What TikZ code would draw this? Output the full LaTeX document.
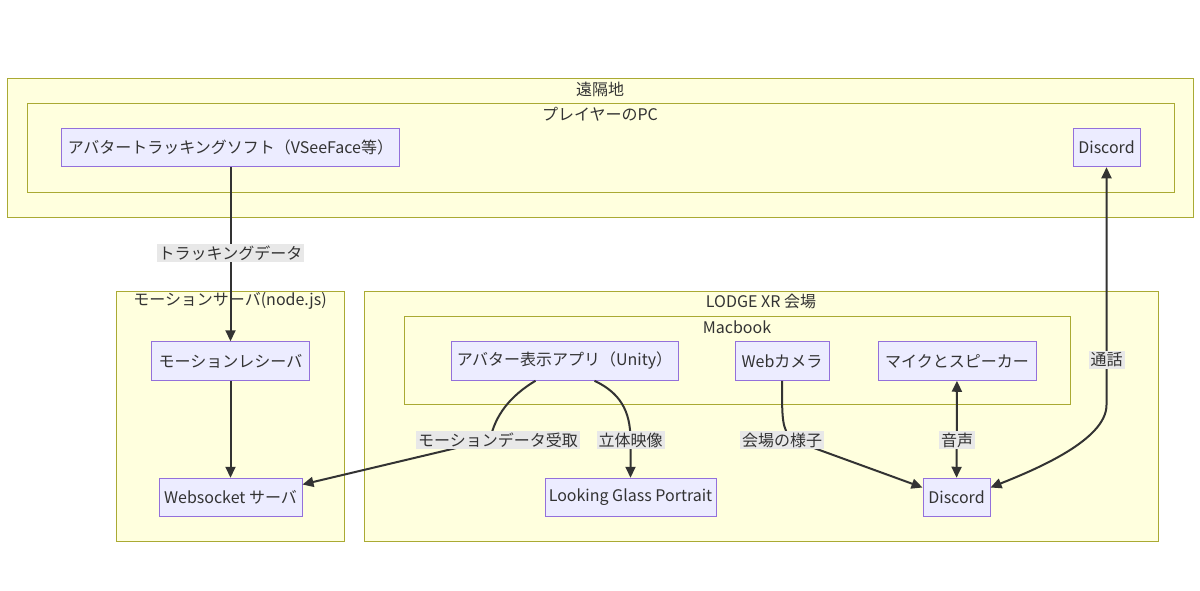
\documentclass[tikz,border=0pt]{standalone}
\usepackage{fontspec}
\setmainfont{Noto Sans CJK JP}
\usetikzlibrary{arrows.meta}
\definecolor{clfill}{HTML}{FFFFDE}
\definecolor{clline}{HTML}{AAAA33}
\definecolor{ndfill}{HTML}{ECECFF}
\definecolor{ndline}{HTML}{9370DB}
\definecolor{edgecol}{HTML}{333333}
\definecolor{lblfill}{HTML}{E8E8E8}

\begin{document}
\begin{tikzpicture}[x=1pt, y=-1pt,
  font=\fontsize{16}{19}\selectfont, text=edgecol,
  cluster/.style={draw=clline, fill=clfill, line width=1pt},
  cltitle/.style={inner sep=0pt},
  box/.style={draw=ndline, fill=ndfill, line width=1pt, minimum height=38.5pt, inner sep=0pt},
  link/.style={draw=edgecol, line width=2pt, -{Triangle[length=11pt,width=10pt]}},
  twoway/.style={link, {Triangle[length=11pt,width=10pt]}-{Triangle[length=11pt,width=10pt]}},
  elabel/.style={fill=lblfill, inner sep=2pt}]

\fill[white] (0,0) rectangle (1200,590);
\useasboundingbox (0,0) rectangle (1200,590);

\draw[cluster] (7,78) rectangle (1193,217);
\node[cltitle] (remote) at (600,89) {遠隔地};
\draw[cluster] (27,103) rectangle (1174,192);
\node[cltitle] (pc) at (600,114) {プレイヤーのPC};
\draw[cluster] (116,291) rectangle (344,541);
\node[cltitle] (server) at (230,301) {モーションサーバ(node.js)};
\draw[cluster] (364,291) rectangle (1158,541);
\node[cltitle] (venue) at (761,301) {LODGE XR 会場};
\draw[cluster] (404,316) rectangle (1070,404);
\node[cltitle] (mac) at (737,327) {Macbook};

\node[box, minimum width=338] (track) at (230.5,147.5) {アバタートラッキングソフト（VSeeFace等）};
\node[box, minimum width=67] (pcdis) at (1106.5,147.5) {Discord};
\node[box, minimum width=158] (recv) at (230.5,361) {モーションレシーバ};
\node[box, minimum width=143] (ws) at (230.5,497.5) {Websocket サーバ};
\node[box, minimum width=227] (app) at (564.5,361) {アバター表示アプリ（Unity）};
\node[box, minimum width=94] (cam) at (782,361) {Webカメラ};
\node[box, minimum width=158] (mic) at (957,361) {マイクとスピーカー};
\node[box, minimum width=171] (lgp) at (630.5,497.5) {Looking Glass Portrait};
\node[box, minimum width=67] (dis) at (956.5,497.5) {Discord};

\coordinate (trk) at (230.5,253);
\coordinate (mot) at (490,440);
\coordinate (st) at (630.5,440);
\coordinate (sc) at (792,440);
\coordinate (vo) at (957,440);
\coordinate (ca) at (1106.5,360);

\draw[link] (track) -- (recv);
\draw[link] (recv) -- (ws);
\draw[link] ([xshift=-29pt]app.south) .. controls +(-25,15) and +(5,-25) .. (mot) -- ([yshift=13pt]ws.east);
\draw[link] ([xshift=30pt]app.south) .. controls +(25,12) and +(0,-30) .. (st) -- (lgp.north);
\draw[link] (cam.south) .. controls +(0,40) and +(-10,-12) .. (sc) -- ([yshift=10pt]dis.west);
\draw[twoway] (mic) -- (dis);
\draw[twoway] (pcdis) -- (ca) -- ++(0,45) .. controls +(0,35) and +(45,-18) .. ([yshift=10pt]dis.east);

\node[elabel] (trklbl) at (trk) {トラッキングデータ};
\node[elabel] (motlbl) at ([xshift=8pt]mot) {モーションデータ受取};
\node[elabel] (stlbl) at (st) {立体映像};
\node[elabel] (sclbl) at ([xshift=-10pt]sc) {会場の様子};
\node[elabel] (volbl) at (vo) {音声};
\node[elabel] (calbl) at (ca) {通話};

\end{tikzpicture}
\end{document}
